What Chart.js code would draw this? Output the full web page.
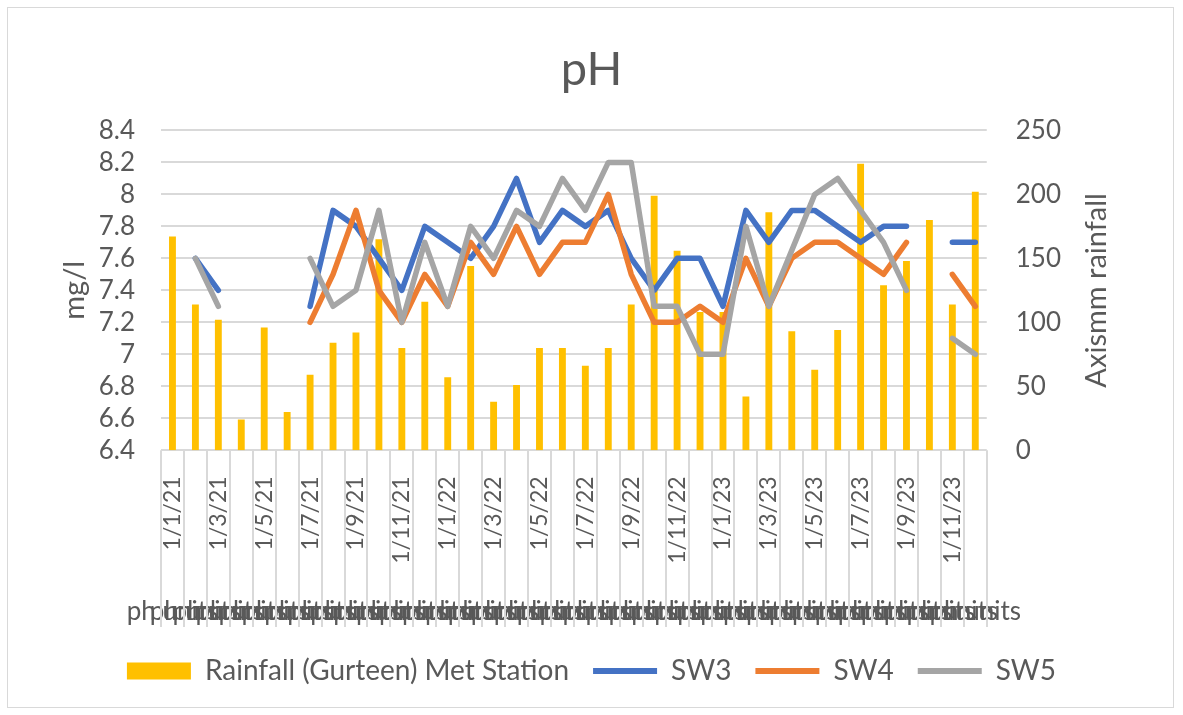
<!DOCTYPE html>
<html>
<head>
<meta charset="utf-8">
<script src="https://cdn.jsdelivr.net/npm/chart.js@4"></script>
<style>
  html, body { margin: 0; padding: 0; background: #fff; }
  #wrap { position: relative; width: 1183px; height: 715px; }
  #frame { position: absolute; left: 7px; top: 7px; width: 1165px; height: 699px; border: 1px solid #d9d9d9; pointer-events: none; }
  canvas { position: absolute; left: 0; top: 0; }
</style>
</head>
<body>
<div id="wrap">
  <canvas id="chart" width="1183" height="715"></canvas>
  <div id="frame"></div>
</div>
<script>
const months = [
  '1/1/21', '1/2/21', '1/3/21', '1/4/21', '1/5/21', '1/6/21', '1/7/21', '1/8/21', '1/9/21', '1/10/21', '1/11/21', '1/12/21',
  '1/1/22', '1/2/22', '1/3/22', '1/4/22', '1/5/22', '1/6/22', '1/7/22', '1/8/22', '1/9/22', '1/10/22', '1/11/22', '1/12/22',
  '1/1/23', '1/2/23', '1/3/23', '1/4/23', '1/5/23', '1/6/23', '1/7/23', '1/8/23', '1/9/23', '1/10/23', '1/11/23', '1/12/23'
];
const units = months.map(() => 'ph units');

// monthly rainfall, mm (right axis)
const rainfall = [167, 114, 102, 24, 96, 30, 59, 84, 92, 165, 80, 116,
                  57, 144, 38, 51, 80, 80, 66, 80, 114, 199, 156, 108,
                  108, 42, 186, 93, 63, 94, 224, 129, 148, 180, 114, 202];

// pH per site (left axis), null = no sample
const sw3 = [null, 7.6, 7.4, null, null, null, 7.3, 7.9, 7.8, 7.6, 7.4, 7.8,
             7.7, 7.6, 7.8, 8.1, 7.7, 7.9, 7.8, 7.9, 7.6, 7.4, 7.6, 7.6,
             7.3, 7.9, 7.7, 7.9, 7.9, 7.8, 7.7, 7.8, 7.8, null, 7.7, 7.7];
const sw4 = [null, null, null, null, null, null, 7.2, 7.5, 7.9, 7.4, 7.2, 7.5,
             7.3, 7.7, 7.5, 7.8, 7.5, 7.7, 7.7, 8.0, 7.5, 7.2, 7.2, 7.3,
             7.2, 7.6, 7.3, 7.6, 7.7, 7.7, 7.6, 7.5, 7.7, null, 7.5, 7.3];
const sw5 = [null, 7.6, 7.3, null, null, null, 7.6, 7.3, 7.4, 7.9, 7.2, 7.7,
             7.3, 7.8, 7.6, 7.9, 7.8, 8.1, 7.9, 8.2, 8.2, 7.3, 7.3, 7.0,
             7.0, 7.8, 7.3, 7.65, 8.0, 8.1, 7.9, 7.7, 7.4, null, 7.1, 7.0];

const FONT = 'Lato, "Open Sans", sans-serif';
const TEXT = '#595959';
const GRID = '#d9d9d9';

// Excel-style separators between categories, running down through both label rows
const categoryDividers = {
  id: 'categoryDividers',
  afterDraw(chart) {
    const { ctx, chartArea, scales: { x, x2 } } = chart;
    const half = (x.getPixelForValue(1) - x.getPixelForValue(0)) / 2;
    const bottom = x2.bottom - x2.options.ticks.padding;
    ctx.save();
    ctx.strokeStyle = GRID;
    ctx.lineWidth = 2;
    ctx.beginPath();
    for (let i = 0; i <= months.length; i++) {
      const px = Math.round(x.getPixelForValue(i) - half);
      ctx.moveTo(px, chartArea.bottom);
      ctx.lineTo(px, bottom);
    }
    ctx.stroke();
    ctx.restore();
  }
};

// both axis titles read bottom-to-top, as in Excel
const axisTitles = {
  id: 'axisTitles',
  afterDraw(chart, args, opts) {
    const { ctx, chartArea, scales: { y, y1 } } = chart;
    const midY = (chartArea.top + chartArea.bottom) / 2;
    const draw = (text, cx) => {
      ctx.save();
      ctx.translate(cx, midY);
      ctx.rotate(-Math.PI / 2);
      ctx.font = opts.size + 'px ' + FONT;
      ctx.fillStyle = TEXT;
      ctx.textAlign = 'center';
      ctx.textBaseline = 'middle';
      ctx.fillText(text, 0, 0);
      ctx.restore();
    };
    draw(opts.left, y.left + opts.leftOffset);
    draw(opts.right, y1.right + opts.rightOffset);
  }
};

new Chart(document.getElementById('chart'), {
  type: 'bar',
  data: {
    labels: months,
    datasets: [
      {
        type: 'bar', label: 'Rainfall (Gurteen) Met Station', data: rainfall, yAxisID: 'y1',
        backgroundColor: '#FFC000', barPercentage: 0.3, categoryPercentage: 1, order: 4, pointStyle: 'rect'
      },
      {
        type: 'line', label: 'SW3', data: sw3, yAxisID: 'y', borderColor: '#4472C4', borderWidth: 5.5,
        pointRadius: 0, pointStyle: 'line', pointBorderColor: '#4472C4', pointBorderWidth: 6,
        borderCapStyle: 'round', borderJoinStyle: 'round', spanGaps: false, order: 3
      },
      {
        type: 'line', label: 'SW4', data: sw4, yAxisID: 'y', borderColor: '#ED7D31', borderWidth: 5.5,
        pointRadius: 0, pointStyle: 'line', pointBorderColor: '#ED7D31', pointBorderWidth: 6,
        borderCapStyle: 'round', borderJoinStyle: 'round', spanGaps: false, order: 2
      },
      {
        type: 'line', label: 'SW5', data: sw5, yAxisID: 'y', borderColor: '#A5A5A5', borderWidth: 5.5,
        pointRadius: 0, pointStyle: 'line', pointBorderColor: '#A5A5A5', pointBorderWidth: 6,
        borderCapStyle: 'round', borderJoinStyle: 'round', spanGaps: false, order: 1
      }
    ]
  },
  options: {
    responsive: false,
    animation: false,
    devicePixelRatio: 1,
    layout: { padding: { top: 42, left: 93, right: 93, bottom: 20 } },
    plugins: {
      title: {
        display: true, text: 'pH', color: TEXT,
        font: { family: FONT, size: 47, weight: 'normal' },
        padding: { top: 0, bottom: 32 }
      },
      legend: {
        position: 'bottom',
        labels: {
          usePointStyle: true, pointStyleWidth: 64, boxHeight: 17,
          color: TEXT, font: { family: FONT, size: 28 }, padding: 24,
          sort: (a, b) => a.datasetIndex - b.datasetIndex
        }
      },
      tooltip: { enabled: false },
      axisTitles: { left: 'mg/l', right: 'Axismm rainfall', size: 29, leftOffset: -18, rightOffset: 7 }
    },
    scales: {
      x: {
        offset: true,
        grid: { display: false, offset: true },
        border: { display: false },
        ticks: {
          autoSkip: false, minRotation: 90, maxRotation: 90, padding: 18,
          color: TEXT, font: { family: FONT, size: 23 },
          callback: (v, i) => (i % 2 === 0 ? months[i] : '')
        }
      },
      x2: {
        type: 'category', labels: units, position: 'bottom', offset: true,
        grid: { display: false }, border: { display: false },
        ticks: { autoSkip: false, maxRotation: 0, padding: 6, color: TEXT, font: { family: FONT, size: 26 } }
      },
      y: {
        position: 'left', min: 6.4, max: 8.4,
        grid: { color: GRID, lineWidth: 2, drawTicks: false },
        border: { display: false },
        ticks: {
          count: 11, autoSkip: false, padding: 26, color: TEXT, font: { family: FONT, size: 26 },
          callback: (v) => String(Math.round(v * 10) / 10)
        },
        afterFit: (scale) => { scale.width = 68; }
      },
      y1: {
        position: 'right', min: 0, max: 250,
        grid: { display: false, drawTicks: false },
        border: { display: false },
        ticks: { count: 6, autoSkip: false, padding: 29, color: TEXT, font: { family: FONT, size: 26 } }
      }
    }
  },
  plugins: [categoryDividers, axisTitles]
});
</script>
</body>
</html>
